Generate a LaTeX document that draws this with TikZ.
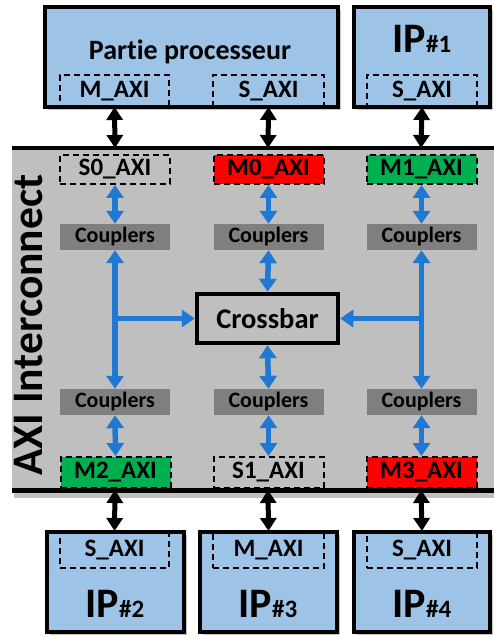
\documentclass[tikz,border=0pt]{standalone}
\usepackage{fontspec}
\setmainfont{Carlito}[Ligatures={NoCommon}]
\usetikzlibrary{arrows.meta,shadows}
\definecolor{ipblue}{HTML}{9DC3E6}
\definecolor{icgray}{HTML}{BFBFBF}
\definecolor{cplgray}{HTML}{7F7F7F}
\definecolor{pred}{HTML}{FF0000}
\definecolor{pgreen}{HTML}{00B050}
\definecolor{arblue}{HTML}{1F78D2}
\begin{document}
\begin{tikzpicture}[x=1pt,y=-1pt,
  ipbox/.style={draw=black,line width=4pt,fill=ipblue,inner sep=0pt,
    drop shadow={shadow xshift=3pt,shadow yshift=-3pt,opacity=0.45}},
  port/.style={draw=black,dash pattern=on 6pt off 4pt,line width=2pt,inner sep=0pt,
    minimum width=110pt,font=\fontsize{25}{25}\selectfont\bfseries},
  cpl/.style={fill=cplgray,inner sep=0pt,minimum width=110pt,minimum height=26pt,
    font=\fontsize{22}{22}\selectfont\bfseries},
  barr/.style={arblue,line width=5.5pt,{Triangle[width=17pt,length=13pt]}-{Triangle[width=17pt,length=13pt]}},
  bsing/.style={arblue,line width=5.5pt,-{Triangle[width=17pt,length=13pt]}},
  karr/.style={black,line width=5pt,{Triangle[width=16pt,length=13pt]}-{Triangle[width=16pt,length=13pt]}},
  iptext/.style={anchor=base,font=\fontsize{42}{42}\selectfont\bfseries},
  bigfont/.style={font=\fontsize{28}{28}\selectfont\bfseries}
]
\useasboundingbox (0,0) rectangle (494,644);
\fill[white] (0,0) rectangle (494,644);

% interconnect region
\fill[black,opacity=0.25] (14,491) rectangle (494,498);
\fill[icgray] (12,148) rectangle (494,490);
\draw[line width=4pt] (12,148) -- (494,148);
\draw[line width=5pt] (12,490) -- (494,490);
\coordinate (t1) at (115,148);
\coordinate (t2) at (268,148);
\coordinate (t3) at (421,148);
\coordinate (u1) at (115,490);
\coordinate (u2) at (268,490);
\coordinate (u3) at (421,490);
\node[rotate=90,font=\fontsize{43.5}{43.5}\selectfont\bfseries] (axi) at (29,325) {AXI Interconnect};

% top boxes
\node[ipbox,minimum width=293pt,minimum height=100pt] (pp) at (191.5,57) {};
\node[bigfont,anchor=base] (pptext) at (190,60) {Partie processeur};
\node[port,minimum width=109pt,minimum height=32pt] (pm) at (114.5,91) {M\_AXI};
\node[port,minimum width=111pt,minimum height=32pt] (ps) at (268.5,91) {S\_AXI};
\node[ipbox,minimum width=136pt,minimum height=100pt] (ip1) at (422,57) {};
\node[iptext] (ip1t) at (422,53) {IP{\fontsize{25}{25}\selectfont\#1}};
\node[port,minimum width=110pt,minimum height=32pt] (ip1s) at (422,91) {S\_AXI};

% interconnect ports
\node[port,minimum height=29pt] (s0) at (115,169.5) {S0\_AXI};
\node[port,fill=pred,minimum height=29pt] (m0) at (268.5,169.5) {M0\_AXI};
\node[port,fill=pgreen,minimum height=29pt] (m1) at (421.5,169.5) {M1\_AXI};
\node[cpl] (c1) at (115,237) {Couplers};
\node[cpl] (c2) at (268.5,237) {Couplers};
\node[cpl] (c3) at (421.5,237) {Couplers};
\node[draw=black,line width=4.5pt,minimum width=141pt,minimum height=49pt,inner sep=0pt,
  font=\fontsize{28.5}{28.5}\selectfont\bfseries] (cb) at (267.5,318.5) {Crossbar};
\node[cpl] (c4) at (115,402) {Couplers};
\node[cpl] (c5) at (268.5,402) {Couplers};
\node[cpl] (c6) at (421.5,402) {Couplers};
\node[port,fill=pgreen,minimum height=31pt] (m2) at (115.5,472.5) {M2\_AXI};
\node[port,minimum height=31pt] (s1) at (268.5,472.5) {S1\_AXI};
\node[port,fill=pred,minimum height=31pt] (m3) at (421.5,472.5) {M3\_AXI};

% blue arrows
\draw[barr] (s0.south) -- (c1.north);
\draw[barr] (m0.south) -- (c2.north);
\draw[barr] (m1.south) -- (c3.north);
\draw[barr] (c2.south) -- (cb.north);
\draw[barr] (cb.south) -- (c5.north);
\draw[barr] (c1.south) -- (c4.north);
\draw[barr] (c3.south) -- (c6.north);
\draw[bsing] (c1.south |- cb.west) -- (cb.west);
\draw[bsing] (c3.south |- cb.east) -- (cb.east);
\draw[barr] (c4.south) -- (m2.north);
\draw[barr] (c5.south) -- (s1.north);
\draw[barr] (c6.south) -- (m3.north);

% bottom boxes
\node[ipbox,minimum width=137pt,minimum height=100pt] (ip2) at (115.5,582) {};
\node[ipbox,minimum width=137pt,minimum height=100pt] (ip3) at (268.5,582) {};
\node[ipbox,minimum width=136pt,minimum height=100pt] (ip4) at (422,582) {};
\node[port,minimum width=109pt,minimum height=36pt] (ip2s) at (114.5,550) {S\_AXI};
\node[port,minimum width=111pt,minimum height=36pt] (ip3m) at (268.5,550) {M\_AXI};
\node[port,minimum width=110pt,minimum height=36pt] (ip4s) at (422,550) {S\_AXI};
\node[iptext] (ip2t) at (115,617) {IP{\fontsize{25}{25}\selectfont\#2}};
\node[iptext] (ip3t) at (268,617) {IP{\fontsize{25}{25}\selectfont\#3}};
\node[iptext] (ip4t) at (422,617) {IP{\fontsize{25}{25}\selectfont\#4}};

% black arrows
\draw[karr,shorten <=-1pt] (pm.south) -- (t1);
\draw[karr,shorten <=-1pt] (ps.south) -- (t2);
\draw[karr,shorten <=-1pt] (ip1s.south) -- (t3);
\draw[karr] (u1) -- (ip2s.north);
\draw[karr] (u2) -- (ip3m.north);
\draw[karr] (u3) -- (ip4s.north);
\end{tikzpicture}
\end{document}
